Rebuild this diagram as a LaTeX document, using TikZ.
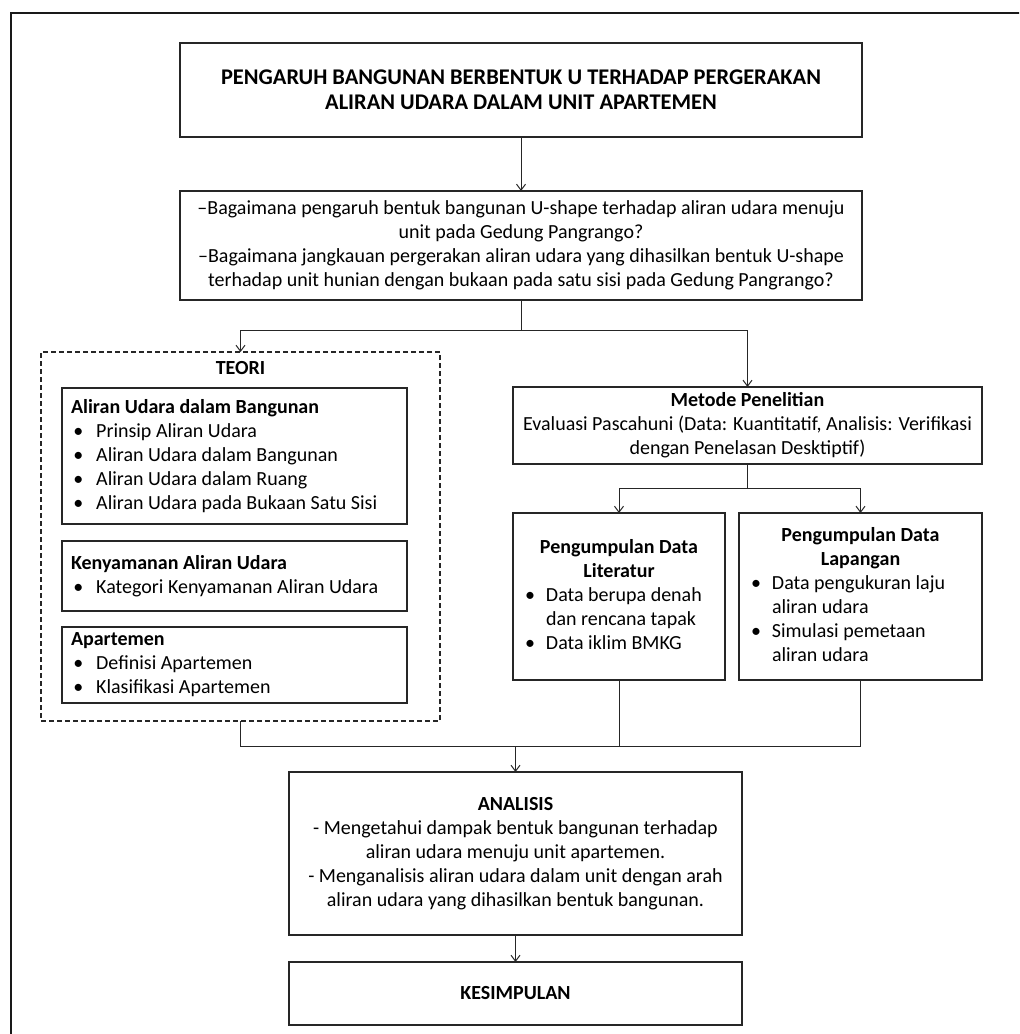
\documentclass[tikz,border=0pt]{standalone}
\usepackage{fontspec}
\setmainfont{Carlito}
\usetikzlibrary{arrows.meta}
\usetikzlibrary{positioning}
\newcommand{\itm}{\makebox[12.6pt][l]{\hspace{1.2pt}\textbullet}}
\newcommand{\bulletlist}[2]{\makebox[#1][l]{\begin{tabular}[t]{@{}p{10.5pt}@{}l@{}}#2\end{tabular}}}
\tikzset{
	>={Straight Barb[length=3pt,width=4.5pt]},
	every node/.style={align=center},
	%
	block/.style={
		draw=black!85, line width=0.6pt, fill=white, inner sep=0pt, outer sep=0pt},
	list block/.style={block, align=flush left, inner xsep=4.5pt,
		text width=#1},
	group box/.style={draw=black!85, line width=0.6pt, dashed,
		dash pattern=on 2.5pt off 1.5pt, inner sep=0pt, outer sep=0pt},
	%
	arrow/.style={->, line width=0.5pt, black!85},
	link/.style={line width=0.5pt, black!85},
}

\begin{document}
\begin{tikzpicture}[x=0.5pt, y=-0.5pt,
			every node/.append style={font=\fontsize{10pt}{12pt}\selectfont},
		]
		\useasboundingbox (0,0) rectangle (1019,1034);
		\begin{scope}
			\clip (0,0) rectangle (1019,1034);
			\draw [line width=1pt, black!90] (11,1100) -- (11,13) -- (1100,13);
		\end{scope}
		%
		\node (title) [block, minimum width=341pt, minimum height=47pt,
				font=\fontsize{11.2pt}{12.3pt}\selectfont\bfseries] at (521,90)
			{PENGARUH BANGUNAN BERBENTUK U TERHADAP PERGERAKAN\\
			ALIRAN UDARA DALAM UNIT APARTEMEN};
		\node (question) [block, minimum width=341pt, minimum height=54.5pt]
				at (521,245.5)
			{\textendash Bagaimana pengaruh bentuk bangunan U-shape terhadap aliran udara menuju\\
			unit pada Gedung Pangrango?\\
			\textendash Bagaimana jangkauan pergerakan aliran udara yang dihasilkan bentuk U-shape\\
			terhadap unit hunian dengan bukaan pada satu sisi pada Gedung Pangrango?};
		%
		\node (teori) [group box, minimum width=199.5pt, minimum height=184.5pt]
			at (240.5,536.5) {};
		\node (teori-label) [font=\fontsize{10pt}{12pt}\selectfont\bfseries]
			at (240.5,368) {TEORI};
		\node (aliran) [list block=163.5pt, minimum height=68pt] at (234.5,456)
			{\textbf{Aliran Udara dalam Bangunan}\\
			\itm Prinsip Aliran Udara\\
			\itm Aliran Udara dalam Bangunan\\
			\itm Aliran Udara dalam Ruang\\
			\itm Aliran Udara pada Bukaan Satu Sisi};
		\node (kenyamanan) [list block=163.5pt, minimum height=35pt,
				below=8.5pt of aliran]
			{\textbf{Kenyamanan Aliran Udara}\\
			\itm Kategori Kenyamanan Aliran Udara};
		\node (apartemen) [list block=163.5pt, minimum height=38pt,
				below=8pt of kenyamanan]
			{\textbf{Apartemen}\\
			\itm Definisi Apartemen\\
			\itm Klasifikasi Apartemen};
		%
		\node (metode) [block, minimum width=234.5pt, minimum height=38.5pt]
				at (747.5,425.5)
			{\textbf{Metode Penelitian}\\
			Evaluasi Pascahuni (Data: Kuantitatif, Analisis: Verifikasi\\
			dengan Penelasan Desktiptif)};
		\node (literatur) [block, minimum width=106pt, minimum height=83.5pt]
				at (619,596.5)
			{\textbf{Pengumpulan Data}\\
			\textbf{Literatur}\\
			\bulletlist{94pt}{\textbullet & Data berupa denah\\
				& dan rencana tapak\\
				\textbullet & Data iklim BMKG}\\[-3pt]};
		\node (lapangan) [block, minimum width=121.5pt, minimum height=83.5pt,
				right=7pt of literatur]
			{\textbf{Pengumpulan Data}\\
			\textbf{Lapangan}\\
			\bulletlist{109.5pt}{\textbullet & Data pengukuran laju\\
				& aliran udara\\
				\textbullet & Simulasi pemetaan\\
				& aliran udara}\\[-3pt]};
		%
		\node (analisis) [block, minimum width=226.5pt, minimum height=81.5pt]
				at (515.5,853.5)
			{\textbf{ANALISIS}\\
			- Mengetahui dampak bentuk bangunan terhadap\\
			aliran udara menuju unit apartemen.\\
			- Menganalisis aliran udara dalam unit dengan arah\\
			aliran udara yang dihasilkan bentuk bangunan.};
		\node (kesimpulan) [block, minimum width=226.5pt, minimum height=31.5pt,
				font=\fontsize{10pt}{12pt}\selectfont\bfseries, below=13.5pt of analisis]
			{KESIMPULAN};
		%
		\coordinate (split) at (question.south |- 0,330);
		\coordinate (split-method) at (metode.south |- 0,488);
		\coordinate (merge) at (analisis.north |- 0,746);
		%
		\draw [arrow] (title) -- (question);
		\draw [link] (question) -- (split);
		\draw [arrow] (split) -| (teori);
		\draw [arrow] (split) -| (metode);
		\draw [link] (metode) -- (split-method);
		\draw [arrow] (split-method) -| (literatur);
		\draw [arrow] (split-method) -| (lapangan);
		\draw [link] (teori) |- (lapangan.south |- merge) -- (lapangan);
		\draw [link] (literatur) -- (literatur.south |- merge);
		\draw [arrow] (merge) -- (analisis);
		\draw [arrow] (analisis) -- (kesimpulan);
	\end{tikzpicture}
\end{document}
